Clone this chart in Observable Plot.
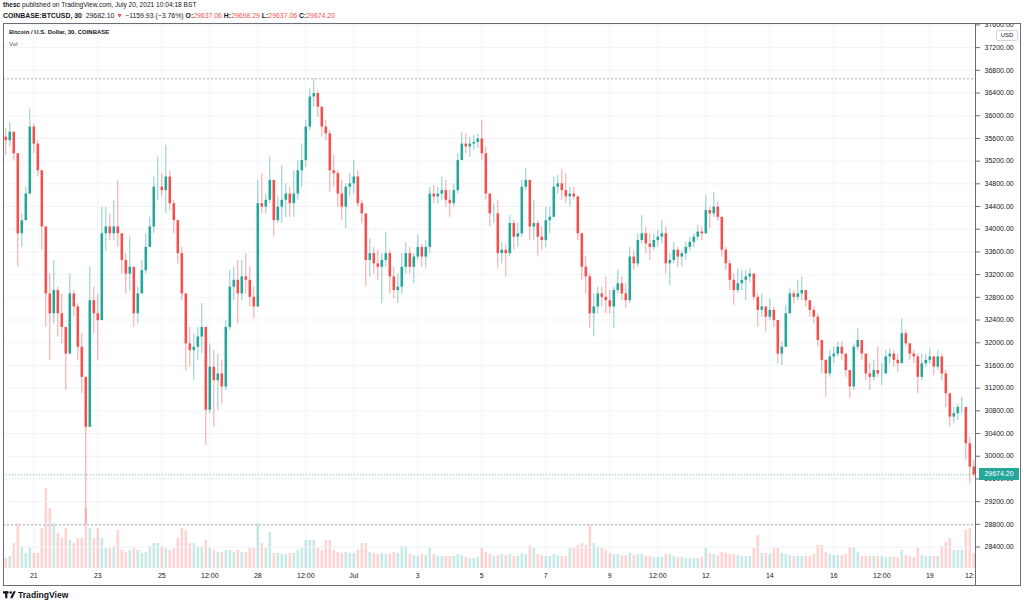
<!DOCTYPE html>
<html><head><meta charset="utf-8">
<script src="https://cdn.jsdelivr.net/npm/d3@7"></script>
<script src="https://cdn.jsdelivr.net/npm/@observablehq/plot@0.6"></script>
<style>
html,body{margin:0;padding:0;background:#fff;}
body{width:1024px;height:604px;overflow:hidden;position:relative;font-family:"Liberation Sans",Arial,sans-serif;color:#131722;}
#hdr{position:relative;height:23px;}
#hdr div{position:absolute;left:3px;white-space:nowrap;}
.r{color:#ef5350;}
#chart{position:relative;width:1024px;height:563px;}
#volclip{position:absolute;left:0;top:0;width:975px;height:563px;overflow:hidden;}
#volinner{width:1024px;height:563px;}
#main{position:absolute;left:0;top:0;width:1024px;height:563px;}
svg.plot-main{max-width:none !important;}
#frame{position:absolute;left:3px;top:0;width:1016px;height:561px;border:1px solid #6a6d78;pointer-events:none;}
#sepv{position:absolute;left:975px;top:0;width:1px;height:563px;background:#6a6d78;}
#leg1{position:absolute;left:9px;top:6px;font-size:6px;font-weight:bold;white-space:nowrap;}
#leg2{position:absolute;left:9px;top:17px;font-size:6.2px;color:#4c525e;}
#usd{position:absolute;left:996px;top:7px;width:20px;height:9px;border:1px solid #d1d4dc;border-radius:2px;background:#fff;font-size:6px;line-height:9px;text-align:center;color:#131722;}
#last{position:absolute;left:979px;width:40px;height:12px;background:#26a69a;color:#fff;font-size:7px;line-height:12px;text-align:center;}
#ftr{position:absolute;left:3px;top:589px;height:12px;display:flex;align-items:center;font-size:8.6px;font-weight:bold;color:#131722;}
</style></head><body>
<div id="hdr">
 <div style="top:1px;font-size:6.6px;"><b>thesc</b> published on TradingView.com, July 20, 2021 10:04:18 BST</div>
 <div style="top:12px;font-size:6.9px;"><b>COINBASE:BTCUSD, 30</b>&nbsp; 29682.10 <span class="r">▼</span> −1159.93 (−3.76%) <b>O:</b><span class="r">29637.06</span> <b>H:</b><span class="r">29698.29</span> <b>L:</b><span class="r">29637.06</span> <b>C:</b><span class="r">29674.20</span></div>
</div>
<div id="chart">
 <div id="volclip"><div id="volinner"></div></div>
 <div id="main"></div>
 <div id="sepv"></div>
 <div id="frame"></div>
 <div id="leg1">Bitcoin / U.S. Dollar, 30, COINBASE</div>
 <div id="leg2">Vol</div>
 <div id="usd">USD</div>
 <div id="last"></div>
</div>
<div id="ftr"><svg width="13" height="8" viewBox="0 0 14 8" style="margin-right:2px"><rect x="0" y="0" width="6" height="2.4" fill="#131722"/><rect x="2.3" y="0" width="2.4" height="7.5" fill="#131722"/><circle cx="8.3" cy="1.3" r="1.3" fill="#131722"/><polygon points="7.6,7.5 11.3,0 13.8,0 10.1,7.5" fill="#131722"/></svg>TradingView</div>
<script>
// ---- data (3-hour candles, starting 2021-06-20 03:00 UTC) ----
const firstOpen = 35620;
const highs = [
35770,35890,35650,35210,34270,34740,36120,35860,35560,34620,
33540,33210,33450,32980,32860,32040,33210,32920,32690,32160,
31390,33330,32980,32860,34390,34390,34270,34510,34860,33920,
33570,33860,33330,32980,33450,33920,34210,34920,35270,34980,
35480,35030,34510,34100,33680,32860,32270,32160,32270,32690,
32270,31980,31860,31800,31690,32390,33270,33330,33450,33450,
33570,33330,32980,34860,34980,34620,35270,34860,34570,35120,
34800,34740,35030,35210,35500,35920,36470,36650,36440,36150,
35920,35740,35300,35030,34860,34800,34980,35210,35030,34510,
34270,33830,33680,33630,33570,33950,33630,33330,33210,33570,
33770,33680,33570,33890,33740,33800,34740,34770,34740,34920,
34860,34680,34800,35330,35710,35680,35620,35650,35680,35920,
35450,34620,34450,34510,33770,33740,34240,34150,34100,34860,
35060,34860,34510,34150,34040,34390,34390,34920,34950,35060,
34980,34740,34740,34570,33920,33510,33210,32860,32980,32980,
33160,32920,32980,33270,33160,33040,33680,33630,33920,34240,
34040,33920,33920,33980,34150,34040,33570,33770,33680,33630,
33770,33860,33920,34070,34040,34590,34390,34650,34480,34210,
33680,33450,33210,33300,33270,33270,33300,33210,32860,32860,
32630,32770,32630,32390,32010,32660,32950,32920,33100,33160,
32920,32740,32630,32510,32040,31690,31860,31920,32010,32010,
31800,31510,31980,32250,32040,31800,31630,31690,31920,31630,
31860,31890,31860,31800,32420,32220,31980,31860,31800,31800,
31800,31890,31750,31860,31800,31510,31100,30860,30920,31040,
30860,30340,29930];
const lows = [
35300,35450,35210,33330,33680,34150,34620,35330,34920,33630,
32270,31690,32330,32100,31980,31160,31800,32450,31690,31100,
28790,30510,32160,31690,32390,33630,33800,33800,33680,33210,
32860,32920,32270,32330,32860,33210,33740,33920,34510,34570,
34270,34330,33920,33390,32740,31510,31570,31330,31690,31800,
30190,30750,30510,30810,30920,31160,32220,32740,32330,32740,
32860,32630,32420,32630,34270,34270,34450,33860,34100,34100,
34210,34210,34210,34510,34740,35090,35740,36150,35970,35620,
35560,34650,34740,34390,34150,34010,34570,34620,34390,34100,
32980,33160,33210,33100,32690,33330,32860,32770,32690,32860,
33210,33210,33040,33450,33330,33300,33570,34450,34450,34510,
34390,34210,34390,34620,35210,35330,35270,35390,35420,35210,
34510,34040,34100,33300,33390,33160,33510,33630,33680,33860,
34680,33800,33800,33510,33630,33680,33920,34210,34620,34510,
34450,34390,34510,33800,33100,32860,32250,32100,32510,32630,
32510,32510,32250,32860,32740,32600,32690,33270,33330,33740,
33570,33450,33630,33680,33740,33210,33010,33390,33330,33330,
33450,33630,33680,33800,33800,33920,34010,34210,34150,33510,
33270,32920,32660,32860,32920,32740,33070,32740,32270,32450,
32190,32390,32270,31630,31600,31920,32510,32690,32740,32740,
32630,32450,32330,31920,31450,31040,31390,31630,31750,31690,
31390,31010,31160,31860,31690,31330,31160,31330,31390,31250,
31450,31630,31570,31480,31630,31920,31690,31630,31100,31330,
31570,31630,31420,31510,31330,30860,30510,30570,30630,30750,
29930,29510,29630];
const closes = [
35560,35710,35330,33920,34150,34620,35800,35500,35030,34040,
32860,32510,32920,32510,32270,31800,32860,32630,31920,31390,
30510,32740,32510,32390,33920,34040,33920,34040,33920,33450,
33210,33330,32510,32860,33270,33680,34040,34740,34740,34680,
34920,34450,34150,33570,32860,31980,31860,31920,32100,32270,
30810,31570,31330,31450,31220,32270,32980,33100,32860,33160,
33100,32800,32630,34450,34390,34510,34860,34150,34390,34510,
34620,34450,34620,35030,35210,35800,36330,36390,36150,35800,
35680,35030,34980,34620,34390,34740,34800,34920,34450,34270,
33450,33570,33390,33330,33450,33570,33160,32920,32980,33330,
33570,33330,33510,33680,33510,33680,34620,34570,34620,34680,
34510,34450,34680,35210,35500,35450,35500,35530,35590,35330,
34620,34270,34270,33570,33630,33570,34100,33860,33920,34740,
34860,34040,34100,33860,33800,34150,34210,34740,34800,34680,
34570,34620,34570,33920,33330,33160,32510,32630,32860,32800,
32740,32630,32920,33040,32860,32740,33510,33390,33800,33920,
33740,33680,33800,33860,33920,33390,33450,33630,33510,33570,
33680,33770,33860,33950,33920,34330,34270,34390,34210,33630,
33390,33100,32920,33040,33100,33160,33210,32800,32570,32630,
32450,32570,32390,31800,31920,32510,32860,32800,32860,32920,
32740,32570,32450,32040,31690,31450,31750,31800,31920,31800,
31510,31220,31920,32040,31800,31450,31390,31510,31450,31450,
31750,31800,31690,31630,32160,31980,31800,31750,31390,31630,
31690,31750,31570,31750,31450,31100,30690,30750,30860,30860,
30220,29810,29674.2];
const volumes = [
1000,1200,2500,4500,2200,1500,2000,1500,1500,4000,
8000,6000,4500,3500,3000,4000,2800,2500,3000,3000,
6000,4000,3000,4000,3000,2000,2000,2200,3800,1800,
1600,1800,2000,1800,1500,1600,2200,2500,2500,2200,
2000,1800,2000,3000,4000,3800,2500,2500,2200,2200,
2800,2000,1800,1600,1600,1800,1800,1600,1800,1600,
1600,2000,2000,4500,2500,2000,3600,1500,1500,1400,
1400,1500,1500,1800,2000,2800,2800,2800,2000,1800,
2800,2800,1800,1600,1500,1600,1500,1500,1800,2500,
2500,1600,1500,1400,1500,1400,1400,1600,1500,2200,
2200,1400,1300,1200,1400,1300,2000,1400,1200,1200,
1200,1200,1200,1400,1300,1100,1000,1000,1100,2000,
1600,1400,1200,1300,1400,1300,1400,1200,1200,1500,
1400,2300,2000,1400,1300,1200,1200,1400,1300,1200,
1200,2000,2000,2300,2500,2300,4300,2500,2200,2000,
1800,1500,1400,1400,1300,1300,1500,1300,1400,1400,
1200,1200,1100,1100,1100,1400,1400,1200,1100,1100,
1000,1000,1000,1000,1100,2000,1500,1400,1300,1600,
1500,1400,1400,1300,1200,1200,1200,2000,3300,1500,
1500,1400,2000,2000,1500,1400,1300,1200,1200,1200,
1200,1200,1400,2300,2300,1600,1400,1300,1300,1300,
1400,2100,2100,1600,1200,1200,1200,1200,1200,1200,
1100,1100,1100,1100,1800,1300,1200,1100,2000,1300,
1200,1200,1200,1200,2200,2600,3000,1800,1800,1800,
3800,4000,1500];
const priceTicks = [28400,28800,29200,29600,30000,30400,30800,31200,31600,32000,32400,32800,33200,33600,34000,34400,34800,35200,35600,36000,36400,36800,37200,37600];
const timeTicks = ["2021-06-21T00:00Z","2021-06-23T00:00Z","2021-06-25T00:00Z","2021-06-26T12:00Z","2021-06-28T00:00Z","2021-06-29T12:00Z","2021-07-01T00:00Z","2021-07-03T00:00Z","2021-07-05T00:00Z","2021-07-07T00:00Z","2021-07-09T00:00Z","2021-07-10T12:00Z","2021-07-12T00:00Z","2021-07-14T00:00Z","2021-07-16T00:00Z","2021-07-17T12:00Z","2021-07-19T00:00Z","2021-07-20T12:00Z"];
const timeLabels = ["21","23","25","12:00","28","12:00","Jul","3","5","7","9","12:00","12","14","16","12:00","19","12:00"];

// ---- build ----
const H3 = 3 * 3600e3, DAY = 864e5;
const start = Date.UTC(2021, 5, 20, 3);
const candles = closes.map((c, i) => {
  const o = i ? closes[i - 1] : firstOpen;
  return {t: new Date(start + i * H3), o, c, h: Math.max(highs[i], o, c), l: Math.min(lows[i], o, c), v: volumes[i]};
});
const col = d => d.c >= d.o ? "#26a69a" : "#ef5350";
const tTicks = timeTicks.map(s => new Date(s));
const labelMap = new Map(tTicks.map((d, i) => [+d, timeLabels[i]]));
const t21 = Date.UTC(2021, 5, 21);
const xDomain = [new Date(t21 - 0.947 * DAY), new Date(t21 + 29.428 * DAY)];
const last = closes[closes.length - 1];
const hi = d3.max(candles, d => d.h), lo = d3.min(candles, d => d.l);
const common = {width: 1024, height: 563, marginLeft: 3, marginRight: 49, marginTop: 0, marginBottom: 18};
const fixSvg = svg => { svg.classList.add("plot-main"); svg.style.maxWidth = "none"; svg.style.width = "1024px"; svg.style.height = "563px"; svg.style.display = "block"; return svg; };
const axisOpts = {anchor: "bottom", tickSize: 0, tickPadding: 5, tickFormat: d => labelMap.get(+d), fontSize: 7, fill: "#131722", label: null};

const volPlot = Plot.plot({
  ...common,
  x: {type: "utc", domain: xDomain},
  y: {domain: [0, 54500], axis: null},
  style: {background: "transparent", overflow: "hidden", fontFamily: "Liberation Sans, Arial, sans-serif"},
  marks: [
    Plot.gridX(tTicks, {stroke: "#f0f3fa", strokeOpacity: 1}),
    Plot.ruleX(candles, {x: "t", y1: 0, y2: "v", stroke: col, strokeOpacity: 0.25, strokeWidth: 2.6}),
    Plot.axisX(tTicks.slice(0, -1), axisOpts),
    Plot.axisX(tTicks.slice(-1), {...axisOpts, dx: -4})
  ]
});
document.getElementById("volinner").appendChild(fixSvg(volPlot));

const mainPlot = Plot.plot({
  ...common,
  x: {type: "utc", domain: xDomain, axis: null},
  y: {domain: [28022, 37625]},
  style: {background: "transparent", overflow: "hidden", fontFamily: "Liberation Sans, Arial, sans-serif"},
  marks: [
    Plot.gridY(priceTicks, {stroke: "#f0f3fa", strokeOpacity: 1}),
    Plot.ruleY([hi, lo], {stroke: "#9598a1", strokeDasharray: "2,2", strokeWidth: 0.8}),
    Plot.ruleY([last], {stroke: "#26a69a", strokeDasharray: "1,2", strokeOpacity: 0.7}),
    Plot.ruleX(candles, {x: "t", y1: "l", y2: "h", stroke: col, strokeOpacity: 0.55, strokeWidth: 1}),
    Plot.ruleX(candles, {x: "t", y1: "o", y2: "c", stroke: col, strokeWidth: 2.6}),
    Plot.axisY(priceTicks, {anchor: "right", tickSize: 4, tickPadding: 5, tickFormat: d => d.toFixed(2), fontSize: 7, fill: "#131722", stroke: "#6a6d78", label: null})
  ]
});
document.getElementById("main").appendChild(fixSvg(mainPlot));

const lastBox = document.getElementById("last");
lastBox.textContent = last.toFixed(2);
lastBox.style.top = (mainPlot.scale("y").apply(last) - 6) + "px";
</script>
</body></html>
